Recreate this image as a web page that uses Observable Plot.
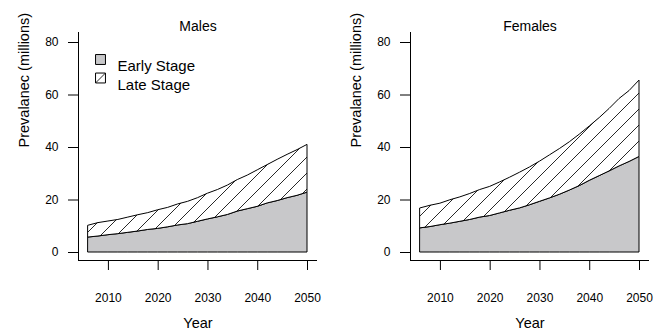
<!DOCTYPE html>
<html>
<head>
<meta charset="utf-8">
<script src="https://cdn.jsdelivr.net/npm/d3@7"></script>
<script src="https://cdn.jsdelivr.net/npm/@observablehq/plot@0.6"></script>
<style>
  html, body { margin: 0; padding: 0; background: white; }
  #row { display: flex; width: 665px; height: 332px; overflow: hidden; }
</style>
</head>
<body>
<svg width="0" height="0" style="position:absolute">
  <defs>
    <pattern id="hatch" patternUnits="userSpaceOnUse" width="16" height="16">
      <rect width="16" height="16" fill="white"></rect>
      <path d="M-4,4 L4,-4 M0,16 L16,0 M12,20 L20,12" stroke="#111" stroke-width="0.9"></path>
    </pattern>
  </defs>
</svg>
<div id="row"></div>
<script>
const years = [2006, 2008, 2010, 2012, 2014, 2016, 2018, 2020, 2022, 2024, 2026, 2028,
               2030, 2032, 2034, 2036, 2038, 2040, 2042, 2044, 2046, 2048, 2050];

const malesEarly = [5.7, 6.1, 6.6, 7.0, 7.5, 8.0, 8.6, 9.0, 9.6, 10.3, 10.8, 11.7,
                    12.6, 13.4, 14.3, 15.6, 16.5, 17.4, 18.7, 19.6, 20.7, 21.6, 22.8];
const malesTotal = [10.2, 11.2, 11.8, 12.4, 13.3, 14.2, 15.0, 16.1, 17.0, 18.3, 19.3, 20.7,
                    22.4, 23.8, 25.5, 27.6, 29.3, 31.3, 33.3, 35.3, 37.2, 39.0, 41.0];

const femalesEarly = [9.2, 9.7, 10.4, 11.0, 11.7, 12.4, 13.3, 13.9, 14.9, 15.9, 16.8, 18.0,
                      19.3, 20.6, 22.0, 23.6, 25.3, 27.3, 29.1, 30.9, 32.8, 34.5, 36.4];
const femalesTotal = [16.8, 17.8, 18.6, 19.9, 21.0, 22.3, 23.8, 25.0, 26.7, 28.5, 30.4, 32.4,
                      34.6, 37.0, 39.4, 42.0, 44.9, 48.0, 51.2, 54.7, 58.5, 61.5, 65.5];

const xTicks = [2010, 2020, 2030, 2040, 2050];
const yTicks = [0, 20, 40, 60, 80];
const legendLabels = ["Early Stage", "Late Stage"];
const grayFill = "#c8c8ca";

function panel(title, early, total, width, showLegend) {
  const data = years.map((y, i) => ({year: y, early: early[i], total: total[i]}));
  const legendMarks = showLegend ? [
    Plot.dot([legendLabels[0]], {frameAnchor: "top-left", dx: 12, dy: 17, symbol: "square", r: 5.6, fill: grayFill, stroke: "black", strokeWidth: 1}),
    Plot.dot([legendLabels[1]], {frameAnchor: "top-left", dx: 12, dy: 35.5, symbol: "square", r: 5.6, fill: "url(#hatch)", stroke: "black", strokeWidth: 1}),
    Plot.text([legendLabels[0]], {frameAnchor: "top-left", dx: 29, dy: 18, text: d => d, textAnchor: "start", fontSize: 15}),
    Plot.text([legendLabels[1]], {frameAnchor: "top-left", dx: 29, dy: 37, text: d => d, textAnchor: "start", fontSize: 15})
  ] : [];
  return Plot.plot({
    width, height: 332,
    marginLeft: 88, marginRight: width - 307, marginTop: 42, marginBottom: 80,
    x: {domain: [2006, 2050]},
    y: {domain: [0, 80]},
    style: {fontFamily: "'Liberation Sans', Arial, Helvetica, sans-serif", fontSize: "12px", color: "black", background: "white"},
    marks: [
      Plot.areaY(data, {x: "year", y1: 0, y2: "early", fill: grayFill, stroke: "black", strokeWidth: 1}),
      Plot.areaY(data, {x: "year", y1: "early", y2: "total", fill: "url(#hatch)", stroke: "black", strokeWidth: 1}),
      Plot.ruleX([2006], {dx: -10, insetTop: -10, insetBottom: -8, stroke: "black"}),
      Plot.ruleY([0], {dy: 8, insetLeft: -10, insetRight: -10, stroke: "black"}),
      Plot.axisY({ticks: yTicks, tickSize: 10, tickPadding: 10, dx: -10, label: null, fontSize: 12}),
      Plot.axisX({ticks: xTicks, tickSize: 10, tickPadding: 23, dy: 8, label: null, tickFormat: d => String(d), fontSize: 12}),
      Plot.text([title], {frameAnchor: "top", dy: -21, text: d => d, fontSize: 14}),
      Plot.text(["Prevalanec (millions)"], {frameAnchor: "left", dx: -64, rotate: -90, text: d => d, fontSize: 14.5}),
      Plot.text(["Year"], {frameAnchor: "bottom", dy: 65, lineAnchor: "top", text: d => d, fontSize: 14.5}),
      ...legendMarks
    ]
  });
}

const row = document.getElementById("row");
row.appendChild(panel("Males", malesEarly, malesTotal, 332, true));
row.appendChild(panel("Females", femalesEarly, femalesTotal, 333, false));
</script>
</body>
</html>
